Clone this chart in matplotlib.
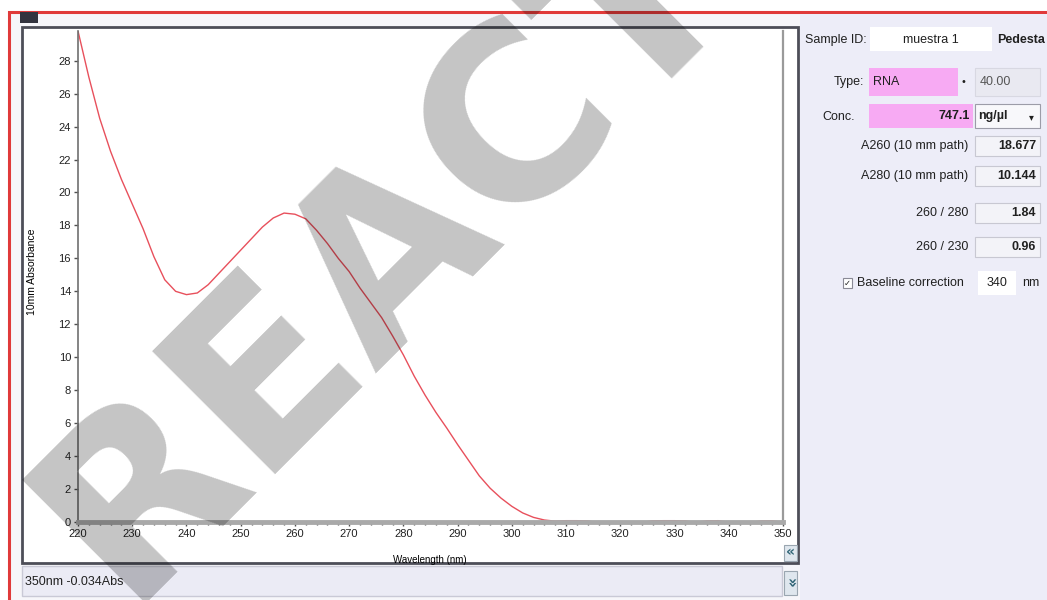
import matplotlib
matplotlib.use('Agg')
import matplotlib.pyplot as plt
from matplotlib.patches import Rectangle
from matplotlib.ticker import MultipleLocator

# spectrum (2 nm steps)
wavelength = [220, 222, 224, 226, 228, 230, 232, 234, 236, 238, 240, 242, 244, 246,
              248, 250, 252, 254, 256, 258, 260, 262, 264, 266, 268, 270, 272, 274,
              276, 278, 280, 282, 284, 286, 288, 290, 292, 294, 296, 298, 300, 302,
              304, 306, 308, 310, 312, 314, 316, 318, 320, 322, 324, 326, 328, 330,
              332, 334, 336, 338, 340, 342, 344, 346, 348, 350]
absorbance = [29.8, 27.0, 24.5, 22.5, 20.8, 19.3, 17.8, 16.1, 14.7, 14.0, 13.8, 13.9,
              14.4, 15.1, 15.8, 16.5, 17.2, 17.9, 18.45, 18.75, 18.68, 18.4, 17.7, 16.9,
              16.0, 15.2, 14.2, 13.3, 12.4, 11.3, 10.14, 8.85, 7.7, 6.65, 5.7, 4.7, 3.75,
              2.8, 2.05, 1.45, 0.95, 0.55, 0.28, 0.12, 0.05, 0.08, 0.08, 0.06, -0.05, -0.06,
              -0.05, -0.04, -0.03, 0.07, 0.08, 0.08, 0.06, -0.04, 0.07, 0.08, -0.03,
              -0.05, -0.04, 0.06, 0.07, -0.034]

y_ticks = list(range(0, 30, 2))
x_ticks = list(range(220, 351, 10))

sample_id = 'muestra 1'
sample_type = 'RNA'
factor = '40.00'
conc = '747.1'
conc_unit = 'ng/µl'
result_labels = ['A260 (10 mm path)', 'A280 (10 mm path)', '260 / 280', '260 / 230']
result_values = ['18.677', '10.144', '1.84', '0.96']
baseline_nm = '340'
status_text = '350nm -0.034Abs'

FAM = ['Liberation Sans', 'DejaVu Sans']
W, H = 1047, 600

fig = plt.figure(figsize=(W / 100, H / 100), dpi=100, facecolor='white')

# pixel-space layer for the window chrome
ui = fig.add_axes([0, 0, 1, 1])
ui.set_xlim(0, W)
ui.set_ylim(H, 0)
ui.axis('off')
ui.set_zorder(0)


def box(x0, y0, x1, y1, fc, ec='none', lw=1.0, z=1):
    ui.add_patch(Rectangle((x0, y0), x1 - x0, y1 - y0, facecolor=fc,
                           edgecolor=ec, linewidth=lw, zorder=z))


def txt(x, y, s, size=9, ha='left', weight='normal', color='#202020', fam=FAM):
    ui.text(x, y, s, fontsize=size, ha=ha, va='center', fontweight=weight,
            color=color, family=fam, zorder=5)


box(9, 12, W + 5, H + 5, '#f6f6fa', '#e03a3a', 2.2)
box(800, 14, W + 5, H + 5, '#ededf8')
box(20, 12, 38, 23, '#33343f')
box(22, 27, 798, 563, 'white', '#4d4e58', 2.0)
box(22, 566, 782, 596, '#ebebf5', '#c9c9d6', 1.0)
txt(25, 582, status_text)
box(784, 545, 797, 561, '#dfe7ee', '#9aa6b0', 0.8)
txt(790.5, 552, '«', size=10, ha='center', color='#2f6475', weight='bold', fam=['DejaVu Sans'])
box(784, 571, 797, 595, '#dfe7ee', '#9aa6b0', 0.8)
ui.text(790.5, 583, '»', fontsize=11, ha='center', va='center', rotation=-90,
        color='#2f6475', fontweight='bold', zorder=5)

# right-hand result panel
txt(805, 40, 'Sample ID:')
box(870, 27, 992, 51, 'white')
txt(931, 40, sample_id, ha='center')
txt(997, 40, 'Pedesta', weight='bold')
txt(864, 82, 'Type:', ha='right')
box(869, 68, 958, 96, '#f7aaf3')
txt(873, 82, sample_type)
txt(963, 82, '•', size=7, ha='center', fam=['DejaVu Sans'])
box(975, 68, 1040, 96, '#e9e9f1', '#d8d8e2', 0.8)
txt(980, 82, factor, color='#555555')
txt(855, 117, 'Conc.', ha='right')
box(869, 104, 973, 128, '#f7aaf3')
txt(970, 116, conc, ha='right', weight='bold')
box(975, 104, 1040, 128, '#f8f8fb', '#9c9ca8', 0.8)
txt(978, 116, conc_unit, weight='bold')
txt(1031, 117, '▾', size=7, ha='center', fam=['DejaVu Sans'])
for i, (lab, val) in enumerate(zip(result_labels, result_values)):
    yy = [146, 176, 213, 247][i]
    txt(968, yy, lab, ha='right')
    box(975, yy - 10, 1040, yy + 10, '#f3f3f8', '#c8c8d2', 0.8)
    txt(1036, yy, val, ha='right', weight='bold')
box(843, 278, 852, 288, 'white', '#8a8a96', 0.8)
txt(847.5, 283, '✓', size=6, ha='center', fam=['DejaVu Sans'])
txt(857, 283, 'Baseline correction')
box(978, 271, 1016, 295, 'white')
txt(997, 283, baseline_nm, ha='center')
txt(1022, 283, 'nm')

# spectrum plot
ax = fig.add_axes([78 / W, (H - 522) / H, (783 - 78) / W, (522 - 31) / H])
ax.set_zorder(1)
ax.set_facecolor('white')
ax.plot(wavelength, absorbance, color='#e8505c', linewidth=1.0, zorder=2)
ax.set_xlim(220, 350)
ax.set_ylim(0, 29.8)
ax.set_xticks(x_ticks)
ax.set_yticks(y_ticks)
ax.xaxis.set_minor_locator(MultipleLocator(2))
ax.spines['top'].set_visible(False)
ax.spines['right'].set_color('#9a9a9a')
ax.spines['right'].set_linewidth(1.6)
ax.spines['left'].set_color('#6f6f6f')
ax.spines['left'].set_linewidth(1.2)
ax.spines['bottom'].set_color('#a9a9a9')
ax.spines['bottom'].set_linewidth(3.5)
ax.spines['bottom'].set_zorder(2.5)
ax.tick_params(axis='both', which='major', length=3, width=1, color='#505050',
               labelsize=8, pad=2, labelcolor='#222222')
ax.tick_params(axis='x', which='minor', length=2, width=1, color='#505050')
for lab in ax.get_xticklabels() + ax.get_yticklabels():
    lab.set_family(FAM)
ax.set_ylabel('10mm Absorbance', fontsize=7.5, family=FAM)
ax.yaxis.set_label_coords(-0.058, 0.51)
ax.set_xlabel('Wavelength (nm)', fontsize=7, family=FAM)
ax.xaxis.set_label_coords(0.499, -0.067)

# semi-transparent watermark lying over everything
fig.text(385 / W, 1 - 250 / H, 'REACT', fontsize=172, fontweight='bold',
         color='black', alpha=0.23, rotation=45, ha='center', va='center',
         rotation_mode='anchor', zorder=10, family=['DejaVu Sans'])

fig.savefig('out.png', dpi=100)
